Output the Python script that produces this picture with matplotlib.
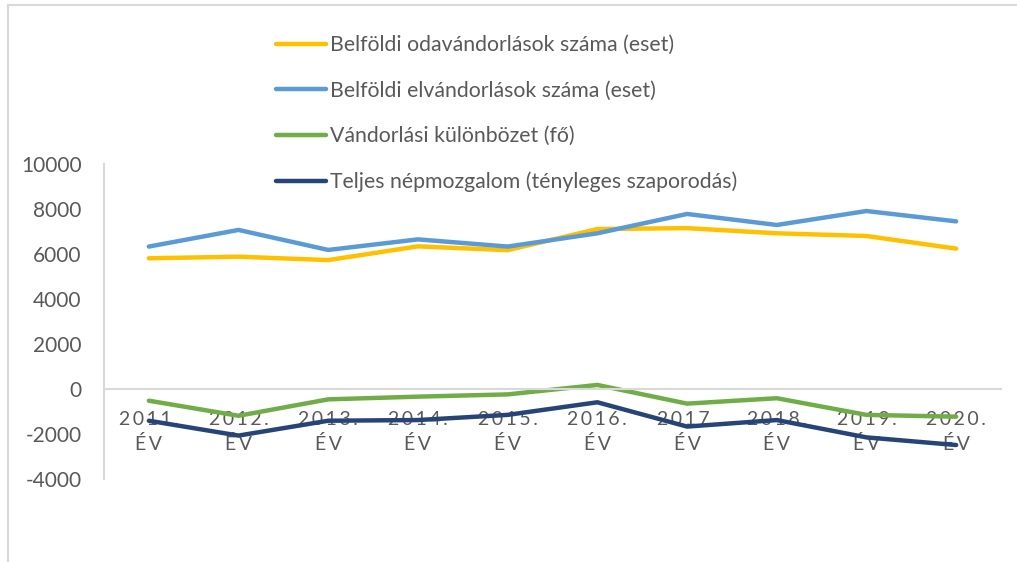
import numpy as np
import matplotlib.pyplot as plt
from matplotlib.lines import Line2D

plt.rcParams['font.family'] = ['Lato', 'DejaVu Sans']
plt.rcParams['axes.unicode_minus'] = False

years = ["2011.", "2012.", "2013.", "2014.", "2015.", "2016.", "2017.", "2018.", "2019.", "2020."]
odavandorlas = [5810, 5880, 5730, 6340, 6170, 7110, 7150, 6920, 6800, 6240]
elvandorlas = [6330, 7070, 6180, 6650, 6330, 6920, 7780, 7290, 7910, 7450]
kulonbozet = [-520, -1190, -460, -340, -240, 180, -650, -410, -1150, -1230]
teljes = [-1410, -2070, -1410, -1380, -1150, -590, -1670, -1380, -2150, -2490]

labels = ["Belföldi odavándorlások száma (eset)",
          "Belföldi elvándorlások száma (eset)",
          "Vándorlási különbözet (fő)",
          "Teljes népmozgalom (tényleges szaporodás)"]
colors = ["#FFC000", "#5B9BD5", "#70AD47", "#264478"]
txt = "#595959"
grid = "#D9D9D9"


def spaced(s):
    # Excel spreads the category letters out
    return "\u2009".join(s)


fig = plt.figure(figsize=(10.17, 5.62), dpi=100)
ax = fig.add_axes([104/1017, 83/562, 897/1017, 315/562])

x = np.arange(len(years))
for vals, c, lab in zip([odavandorlas, elvandorlas, kulonbozet, teljes], colors, labels):
    ax.plot(x, vals, color=c, lw=3.2, label=lab, solid_capstyle='round')

ax.set_xlim(-0.5, len(years) - 0.5)
ax.set_ylim(-4000, 10000)
ax.set_yticks(np.arange(-4000, 10001, 2000))

ax.spines['top'].set_visible(False)
ax.spines['right'].set_visible(False)
ax.spines['left'].set_color(grid)
ax.spines['left'].set_linewidth(1.5)
ax.spines['bottom'].set_position(('data', 0))
ax.spines['bottom'].set_color(grid)
ax.spines['bottom'].set_linewidth(1.5)

ax.set_xticks(x)
ax.set_xticklabels([spaced(y) + "\n" + spaced("ÉV") for y in years], linespacing=1.45)
ax.tick_params(axis='x', length=0, pad=16, labelsize=14, colors=txt)
ax.tick_params(axis='y', length=0, pad=16, labelsize=15, colors=txt)

leg = fig.legend(loc='upper left', bbox_to_anchor=(276/1017, 1 - 35/562), frameon=False,
                 fontsize=15.3, handlelength=2.35, handletextpad=0.2, labelspacing=1.2,
                 borderaxespad=0, borderpad=0)
for t in leg.get_texts():
    t.set_color(txt)

# chart frame
fig.add_artist(Line2D([8/1017, 1], [1 - 5/562, 1 - 5/562], color=grid, lw=1.5))
fig.add_artist(Line2D([8/1017, 8/1017], [0, 1 - 5/562], color=grid, lw=1.5))

fig.savefig("out.png", dpi=100)
